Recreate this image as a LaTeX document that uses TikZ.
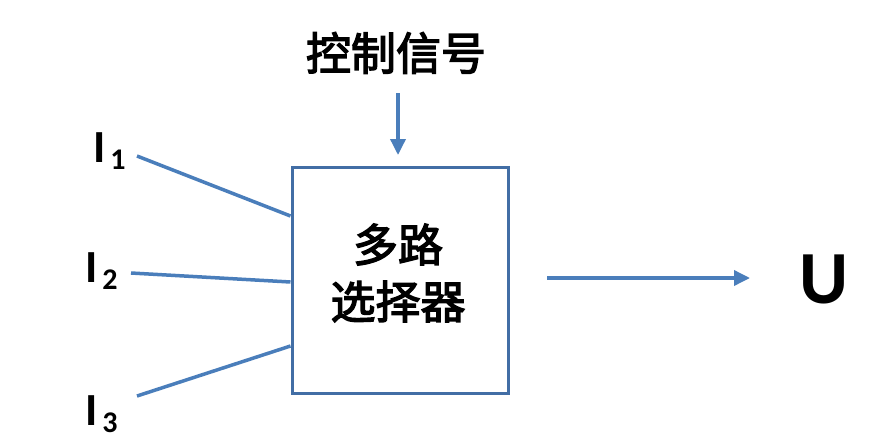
\documentclass[tikz,border=0pt]{standalone}
\usepackage{fontspec}
\setmainfont{Carlito}
\newfontfamily\cjk{Noto Sans CJK SC}[AutoFakeBold=3]
\usetikzlibrary{arrows.meta}
\definecolor{lineblue}{RGB}{74,126,187}
\definecolor{boxblue}{RGB}{66,110,165}
\tikzset{
  conn/.style={draw=lineblue, line width=3.5pt},
  arr/.style={conn, -{Triangle[length=16pt,width=15pt]}},
  lbl/.style={inner sep=0pt, font=\bfseries},
  cjktext/.style={inner sep=0pt, font=\cjk\bfseries\fontsize{45}{57}\selectfont},
  mux/.style={draw=boxblue, line width=3pt, minimum width=216pt, minimum height=226pt, inner sep=0pt}
}
\newcommand{\inlbl}[1]{{\fontsize{46}{46}\selectfont I}\hspace{5pt}\raisebox{-7pt}{\fontsize{30}{30}\selectfont #1}}
\begin{document}
\begin{tikzpicture}[x=1pt,y=-1pt]
\useasboundingbox (0,0) rectangle (889,442);
\fill[white] (0,0) rectangle (889,442);
\node[mux] (box) at (400,280.5) {};
\node[cjktext, align=center] (boxtext) at (398,273) {多路\\选择器};
\node[cjktext] (ctrl) at (396,53) {控制信号};
\node[lbl, anchor=base west] (i1) at (93,162) {\inlbl{1}};
\node[lbl, anchor=base west] (i2) at (85,282) {\inlbl{2}};
\node[lbl, anchor=base west] (i3) at (85,425) {\inlbl{3}};
\node[lbl, anchor=base] (u) at (824,303) {\fontsize{75}{75}\selectfont U};
\coordinate (s1) at (137,156);
\coordinate (s2) at (131,273);
\coordinate (s3) at (137,396);
\coordinate (c1) at (398,93);
\coordinate (c2) at (398,155);
\coordinate (o1) at (547,278);
\coordinate (o2) at (750,278);
\draw[conn] (s1) -- ([yshift=64.5pt]box.west);
\draw[conn] (s2) -- ([yshift=-1.5pt]box.west);
\draw[conn] (s3) -- ([yshift=-65.5pt]box.west);
\draw[arr] (c1) -- (c2);
\draw[arr] (o1) -- (o2);
\end{tikzpicture}
\end{document}
